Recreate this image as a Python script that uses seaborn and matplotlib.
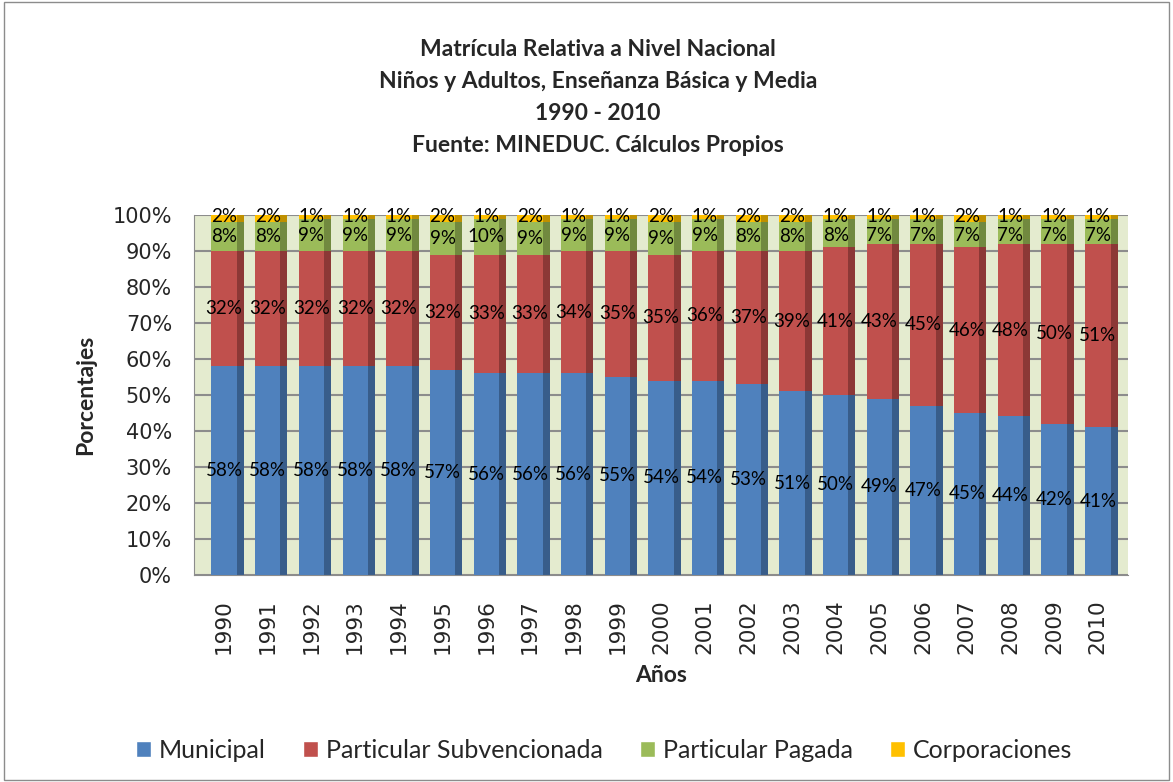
import numpy as np
import pandas as pd
import seaborn as sns
import matplotlib.pyplot as plt
import matplotlib.ticker as ticker
from matplotlib.patches import Patch, Rectangle

years = [str(y) for y in range(1990, 2011)]
municipal = [58, 58, 58, 58, 58, 57, 56, 56, 56, 55, 54, 54, 53, 51, 50, 49, 47, 45, 44, 42, 41]
subvencionada = [32, 32, 32, 32, 32, 32, 33, 33, 34, 35, 35, 36, 37, 39, 41, 43, 45, 46, 48, 50, 51]
pagada = [8, 8, 9, 9, 9, 9, 10, 9, 9, 9, 9, 9, 8, 8, 8, 7, 7, 7, 7, 7, 7]
corporaciones = [2, 2, 1, 1, 1, 2, 1, 2, 1, 1, 2, 1, 2, 2, 1, 1, 1, 2, 1, 1, 1]

series = ["Municipal", "Particular Subvencionada", "Particular Pagada", "Corporaciones"]
colors = ["#4F81BD", "#C0504D", "#9BBB59", "#FFC000"]
side_colors = ["#385D8A", "#8C3836", "#71893F", "#BF9000"]

df = pd.DataFrame({"Año": years, series[0]: municipal, series[1]: subvencionada,
                   series[2]: pagada, series[3]: corporaciones})
cum = df[series].cumsum(axis=1)
cum = cum.div(cum[series[-1]], axis=0) * 100
bottoms = cum.shift(1, axis=1).fillna(0)

sns.set_style("white")
plt.rcParams['font.family'] = ['Lato', 'DejaVu Sans']

fig = plt.figure(figsize=(11.73, 7.82), dpi=100)
fig.patches.append(Rectangle((0.003, 0.003), 0.994, 0.994, transform=fig.transFigure,
                             fill=False, edgecolor="#8C8C8C", linewidth=1))
ax = fig.add_axes([0.165, 0.265, 0.797, 0.46])
ax.set_facecolor("#E4EBCF")

bw = 0.58
# draw stacked from top series down so lower ones cover upper
for i in range(len(series) - 1, -1, -1):
    s = series[i]
    # darker side face for a bit of depth
    ax.bar(np.arange(len(years)) + bw / 2 + 0.08, cum[s], width=0.16, color=side_colors[i],
           linewidth=0, zorder=2)
    sns.barplot(x="Año", y=s, data=cum.assign(Año=years), color=colors[i], width=bw,
                saturation=1, ax=ax, zorder=3, linewidth=0)

for i, s in enumerate(series):
    vals = df[s].values
    mids = bottoms[s].values + (cum[s].values - bottoms[s].values) / 2
    for j, v in enumerate(vals):
        y = mids[j]
        if s == "Corporaciones":
            y = 99.6
        elif s == "Particular Pagada":
            y = min(y, 94.4)
        ax.text(j, y, f"{v}%", ha="center", va="center", fontsize=13.5, color="black", zorder=5)

ax.set_ylim(0, 100)
ax.set_xlim(-0.7, len(years) - 0.3)
ax.yaxis.set_major_locator(ticker.MultipleLocator(10))
ax.yaxis.set_major_formatter(ticker.PercentFormatter(decimals=0))
ax.grid(axis="y", color="#8C8C8C", linewidth=1.5, zorder=0)
ax.set_axisbelow(True)
for side in ["top", "right"]:
    ax.spines[side].set_visible(False)
ax.spines["left"].set_color("#8C8C8C")
ax.spines["bottom"].set_color("#8C8C8C")
ax.tick_params(axis="y", labelsize=15, left=False, pad=12)
ax.tick_params(axis="x", labelsize=15.5, rotation=90, bottom=False, pad=14)
for lab in ax.get_xticklabels() + ax.get_yticklabels():
    lab.set_family(["DejaVu Sans"])

ax.set_xlabel("Años", fontsize=16.5, fontweight="bold", labelpad=8)
ax.set_ylabel("Porcentajes", fontsize=16.5, fontweight="bold", labelpad=12)

fig.text(0.51, 0.875, "Matrícula Relativa a Nivel Nacional\nNiños y Adultos, Enseñanza Básica y Media\n1990 - 2010\nFuente: MINEDUC. Cálculos Propios",
         ha="center", va="center", fontsize=16.5, fontweight="bold", linespacing=1.65)

handles = [Patch(facecolor=c, label=s) for s, c in zip(series, colors)]
fig.legend(handles=handles, loc="center", bbox_to_anchor=(0.515, 0.04), ncol=4, frameon=False,
           fontsize=18, handlelength=0.6, handleheight=0.6, columnspacing=1.5, handletextpad=0.3)

fig.savefig("out.png", dpi=100)
